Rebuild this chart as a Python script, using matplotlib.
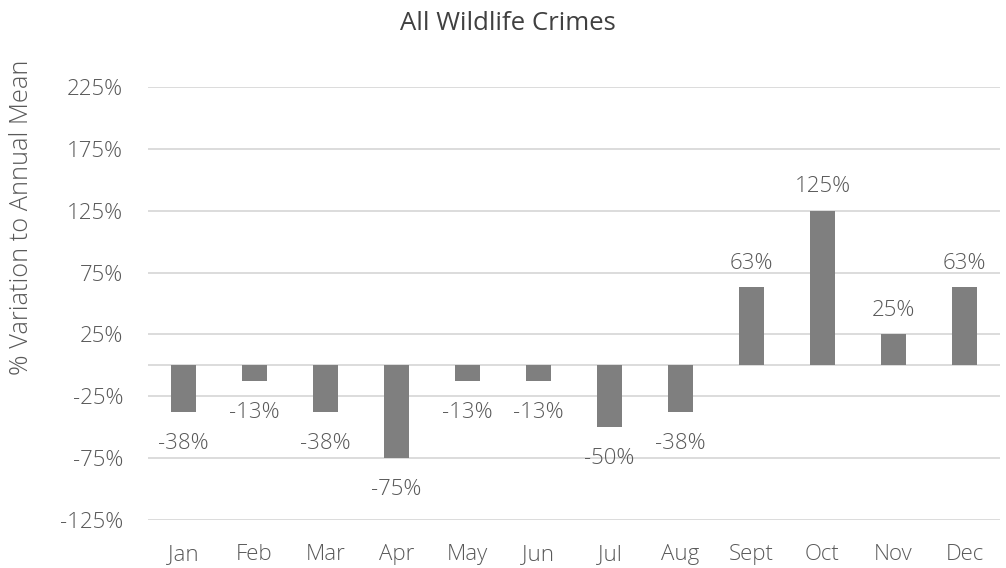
import matplotlib.pyplot as plt

# monthly % variation to annual mean (as labelled on the chart)
months = ['Jan', 'Feb', 'Mar', 'Apr', 'May', 'Jun', 'Jul', 'Aug', 'Sept', 'Oct', 'Nov', 'Dec']
variation = [-38, -13, -38, -75, -13, -13, -50, -38, 63, 125, 25, 63]
y_ticks = [-125, -75, -25, 25, 75, 125, 175, 225]

text_color = '#595959'
plt.rcParams['font.family'] = ['Open Sans', 'DejaVu Sans']
plt.rcParams['font.weight'] = 'light'

fig = plt.figure(figsize=(10.06, 5.68), dpi=100)
ax = fig.add_axes([148 / 1006, 1 - 520 / 568, 852 / 1006, 433 / 568])

x = range(len(months))
ax.bar(x, variation, width=0.35, color='#7f7f7f', zorder=3)

for i, v in enumerate(variation):
    offset = 24 if v > 0 else -31
    ax.annotate(f'{v}%', (i, v), xytext=(0, offset), textcoords='offset pixels',
                ha='center', va='center', fontsize=16, color=text_color)

ax.set_xlim(-0.5, len(months) - 0.5)
ax.set_ylim(-125, 225)
ax.set_yticks(y_ticks)
ax.set_yticklabels([f'{t}%' for t in y_ticks])
ax.set_xticks(list(x))
ax.set_xticklabels(months)
ax.tick_params(length=0, labelsize=16, labelcolor=text_color)
ax.tick_params(axis='y', pad=18)
ax.tick_params(axis='x', pad=17)

ax.grid(axis='y', color='#d9d9d9', linewidth=1.3, zorder=0)
ax.axhline(0, color='#d9d9d9', linewidth=1.3, zorder=1)
for s in ax.spines.values():
    s.set_visible(False)

fig.text(508 / 1006, 1 - 23 / 568, 'All Wildlife Crimes', ha='center', va='center',
         fontsize=18.5, fontweight='normal', color='#404040')
fig.text(22 / 1006, 1 - 217 / 568, '% Variation to Annual Mean', rotation=90,
         ha='center', va='center', fontsize=18.3, color=text_color)

fig.savefig('out.png', dpi=100)
